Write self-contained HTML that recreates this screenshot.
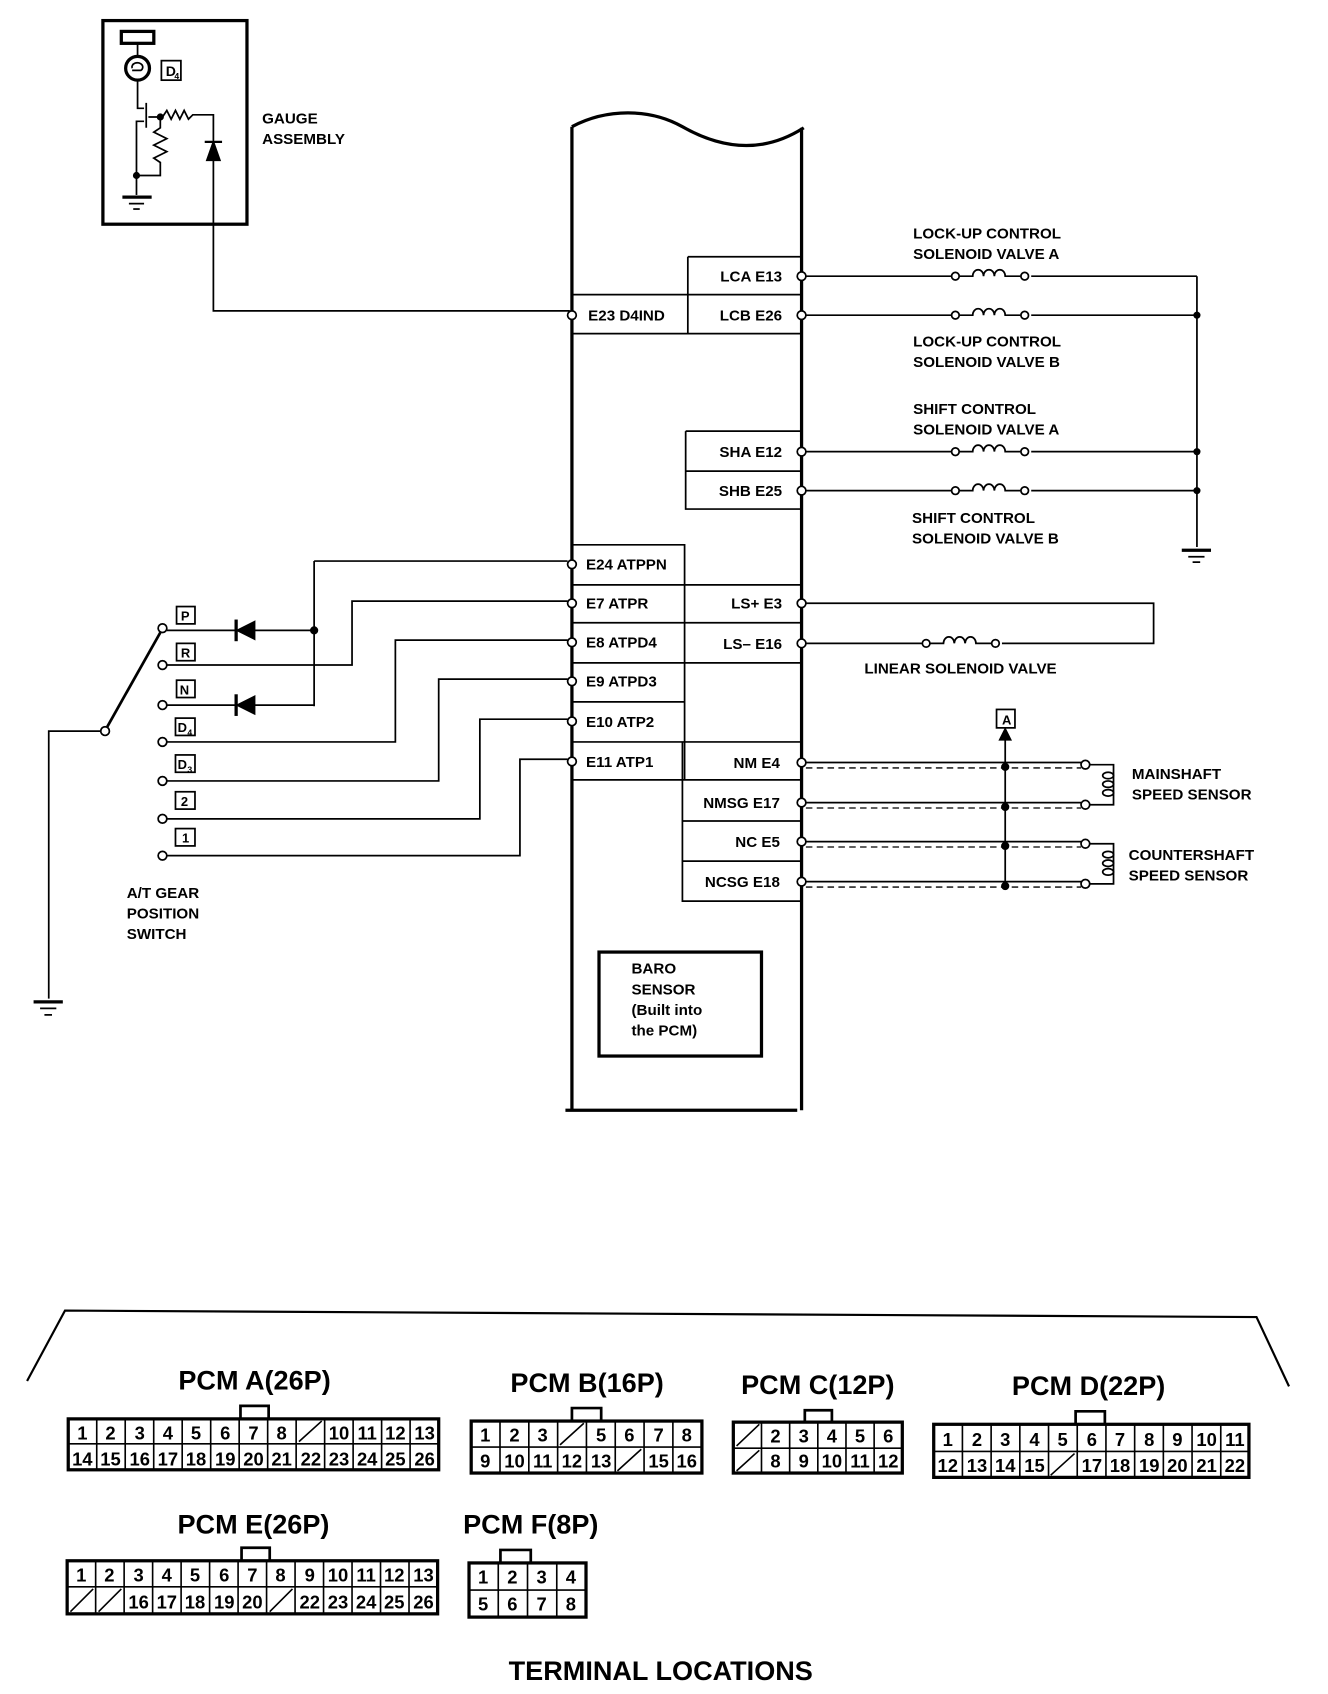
<!DOCTYPE html>
<html><head><meta charset="utf-8"><style>
html,body{margin:0;padding:0;background:#fff}
svg{display:block}
text{font-family:"Liberation Sans",sans-serif;font-weight:bold;fill:#000}
.l{font-size:14px}
.n{font-size:17px;text-anchor:middle}
.h{font-size:25px;text-anchor:middle}
</style></head><body>
<svg width="1328" height="1694" viewBox="0 0 1226 1564" preserveAspectRatio="none" xmlns="http://www.w3.org/2000/svg">
<g fill="none" stroke="#000" stroke-width="1.6">
<!-- gauge -->
<rect x="95" y="19" width="133" height="188" stroke-width="3"/>
<rect x="112" y="29" width="30" height="11" stroke-width="3"/>
<line x1="127" y1="40" x2="127" y2="51"/>
<circle cx="127" cy="63" r="11" stroke-width="3"/>
<path d="M122 63 a5 4 0 1 1 8 2 h-8"/>
<rect x="149" y="56" width="18" height="18"/>
<path d="M127 74 V100 H133 M135 95 V118 M133 112 H126 V162 M137 108 H150 L154 102 L158 110 L162 102 L166 110 L170 102 L174 110 L178 106 H197 V130"/>
<path d="M148 108 V118 L142 122 L154 128 L142 134 L154 140 L142 146 L148 150 V162 H126"/>
<circle cx="148" cy="108" r="2.5" fill="#000"/><circle cx="126" cy="162" r="2.5" fill="#000"/>
<line x1="126" y1="162" x2="126" y2="180"/>
<line x1="113" y1="182" x2="140" y2="182" stroke-width="3"/><line x1="119" y1="188" x2="133" y2="188"/><line x1="123" y1="193" x2="129" y2="193"/>
<polygon points="191,148 203,148 197,131" fill="#000"/><line x1="189" y1="131" x2="205" y2="131" stroke-width="2"/>
<path d="M197 148 V287 H526"/>
<!-- PCM -->
<path d="M528 117 V1025 M740 118 V1025 M528 117 C560 100 600 100 630 117 C660 134 700 145 742 118" stroke-width="3"/>
<line x1="522" y1="1025" x2="736" y2="1025" stroke-width="3"/>
<path d="M635 237 H740 M635 237 V308 M635 272 H740 M528 272 H635 M528 308 H740"/>
<path d="M633 398 H740 M633 398 V470 H740 M633 435 H740"/>
<path d="M528 503 H632 V720 M528 540 H740 M528 575 H740 M632 612 H740 M528 612 H632 M528 648 H632 M528 685 H740 M528 720 H632 M630 685 V832 H740 M630 720 H740 M630 758 H740 M630 795 H740"/>
<rect x="553" y="879" width="150" height="96" stroke-width="3"/>
<!-- solenoid wires -->
<path d="M744 255 H878 M952 255 H1105 M744 291 H878 M952 291 H1105 M744 417 H878 M952 417 H1105 M744 453 H878 M952 453 H1105 M1105 255 V505"/>
<g id="coil">
<circle cx="882" cy="255" r="3.5" fill="#fff"/><circle cx="946" cy="255" r="3.5" fill="#fff"/>
<path d="M886 255 H898 a5 6 0 0 1 10 0 a5 6 0 0 1 10 0 a5 6 0 0 1 10 0 H942"/>
</g>
<use href="#coil" y="36"/><use href="#coil" y="162"/><use href="#coil" y="198"/><use href="#coil" x="-27" y="339"/>
<circle cx="1105" cy="291" r="2.5" fill="#000"/><circle cx="1105" cy="417" r="2.5" fill="#000"/><circle cx="1105" cy="453" r="2.5" fill="#000"/>
<line x1="1091" y1="508" x2="1118" y2="508" stroke-width="3"/><line x1="1097" y1="514" x2="1112" y2="514"/><line x1="1101" y1="519" x2="1108" y2="519"/>
<path d="M744 557 H1065 V594 H925 M851 594 H744"/>
<!-- sensors -->
<path d="M744 704 H998 M744 741 H998 M744 777 H998 M744 814 H998"/>
<path d="M744 709 H998 M744 746 H998 M744 782 H998 M744 819 H998" stroke-dasharray="6 4" stroke-width="1.2"/>
<circle cx="1002" cy="706" r="4" fill="#fff"/><circle cx="1002" cy="743" r="4" fill="#fff"/><circle cx="1002" cy="779" r="4" fill="#fff"/><circle cx="1002" cy="816" r="4" fill="#fff"/>
<path d="M1006 706 H1028 V743 H1006 M1006 779 H1028 V816 H1006"/>
<ellipse cx="1023" cy="716" rx="5" ry="3"/><ellipse cx="1023" cy="724" rx="5" ry="3"/><ellipse cx="1023" cy="732" rx="5" ry="3"/>
<ellipse cx="1023" cy="789" rx="5" ry="3"/><ellipse cx="1023" cy="797" rx="5" ry="3"/><ellipse cx="1023" cy="805" rx="5" ry="3"/>
<line x1="928" y1="680" x2="928" y2="818"/>
<polygon points="923,683 933,683 928,673" fill="#000"/>
<rect x="920" y="655" width="17" height="17"/>
<circle cx="928" cy="708" r="3" fill="#000"/><circle cx="928" cy="745" r="3" fill="#000"/><circle cx="928" cy="781" r="3" fill="#000"/><circle cx="928" cy="818" r="3" fill="#000"/>
<!-- terminal circles -->
<g fill="#fff">
<circle cx="740" cy="255" r="4"/><circle cx="740" cy="291" r="4"/><circle cx="740" cy="417" r="4"/><circle cx="740" cy="453" r="4"/><circle cx="740" cy="557" r="4"/><circle cx="740" cy="594" r="4"/><circle cx="740" cy="704" r="4"/><circle cx="740" cy="741" r="4"/><circle cx="740" cy="777" r="4"/><circle cx="740" cy="814" r="4"/>
<circle cx="528" cy="291" r="4"/><circle cx="528" cy="521" r="4"/><circle cx="528" cy="557" r="4"/><circle cx="528" cy="593" r="4"/><circle cx="528" cy="629" r="4"/><circle cx="528" cy="666" r="4"/><circle cx="528" cy="703" r="4"/>
</g>
<!-- gear switch -->
<path d="M154 582 H217 M235 582 H290 M290 518 V652 M290 518 H524 M154 651 H217 M235 651 H290"/>
<polygon points="219,582 235,574 235,590" fill="#000"/><line x1="218" y1="572" x2="218" y2="592" stroke-width="3"/>
<polygon points="219,651 235,643 235,659" fill="#000"/><line x1="218" y1="641" x2="218" y2="661" stroke-width="3"/>
<circle cx="290" cy="582" r="3" fill="#000"/>
<path d="M154 614 H325 V555 H524 M154 685 H365 V591 H524 M154 721 H405 V627 H524 M154 756 H443 V664 H524 M154 790 H480 V701 H524"/>
<g fill="#fff"><circle cx="150" cy="580" r="4"/><circle cx="150" cy="614" r="4"/><circle cx="150" cy="651" r="4"/><circle cx="150" cy="685" r="4"/><circle cx="150" cy="721" r="4"/><circle cx="150" cy="756" r="4"/><circle cx="150" cy="790" r="4"/><circle cx="97" cy="675" r="4"/></g>
<line x1="99" y1="671" x2="148" y2="584" stroke-width="2.5"/>
<path d="M93 675 H45 V922"/>
<line x1="31" y1="925" x2="58" y2="925" stroke-width="3"/><line x1="37" y1="931" x2="52" y2="931"/><line x1="41" y1="937" x2="48" y2="937"/>
<rect x="163" y="560" width="17" height="16"/><rect x="163" y="594" width="17" height="16"/><rect x="163" y="628" width="17" height="16"/><rect x="162" y="663" width="18" height="16"/><rect x="162" y="697" width="18" height="16"/><rect x="162" y="731" width="18" height="16"/><rect x="162" y="765" width="18" height="16"/>
<!-- bottom frame -->
<path d="M25 1275 L60 1210 L1160 1216 L1190 1280" stroke-width="2"/>
</g>
<!-- labels -->
<text x="153" y="70" style="font-size:13px">D</text><text x="161" y="73" style="font-size:8px">4</text>
<text class="l" x="242" y="114">GAUGE</text><text class="l" x="242" y="133">ASSEMBLY</text>
<g class="l" text-anchor="end">
<text x="722" y="260">LCA E13</text><text x="722" y="296">LCB E26</text><text x="722" y="422">SHA E12</text><text x="722" y="458">SHB E25</text>
<text x="722" y="562">LS+ E3</text><text x="722" y="599">LS– E16</text><text x="720" y="709">NM E4</text><text x="720" y="746">NMSG E17</text><text x="720" y="782">NC E5</text><text x="720" y="819">NCSG E18</text>
</g>
<g class="l">
<text x="543" y="296">E23 D4IND</text><text x="541" y="526">E24 ATPPN</text><text x="541" y="562">E7 ATPR</text><text x="541" y="598">E8 ATPD4</text><text x="541" y="634">E9 ATPD3</text><text x="541" y="671">E10 ATP2</text><text x="541" y="708">E11 ATP1</text>
<text x="843" y="220">LOCK-UP CONTROL</text><text x="843" y="239">SOLENOID VALVE A</text>
<text x="843" y="320">LOCK-UP CONTROL</text><text x="843" y="339">SOLENOID VALVE B</text>
<text x="843" y="382">SHIFT CONTROL</text><text x="843" y="401">SOLENOID VALVE A</text>
<text x="842" y="483">SHIFT CONTROL</text><text x="842" y="502">SOLENOID VALVE B</text>
<text x="798" y="622">LINEAR SOLENOID VALVE</text>
<text x="1045" y="719">MAINSHAFT</text><text x="1045" y="738">SPEED SENSOR</text>
<text x="1042" y="794">COUNTERSHAFT</text><text x="1042" y="813">SPEED SENSOR</text>
<text x="117" y="829">A/T GEAR</text><text x="117" y="848">POSITION</text><text x="117" y="867">SWITCH</text>
<text x="583" y="899">BARO</text><text x="583" y="918">SENSOR</text><text x="583" y="937">(Built into</text><text x="583" y="956">the PCM)</text>
</g>
<g style="font-size:12px">
<text x="167" y="573">P</text><text x="167" y="607">R</text><text x="166" y="641">N</text><text x="164" y="676">D</text><text x="173" y="679" style="font-size:8px">4</text><text x="164" y="710">D</text><text x="173" y="713" style="font-size:8px">3</text><text x="167" y="744">2</text><text x="168" y="778">1</text>
</g>
<text x="925" y="669" style="font-size:12px">A</text>
<!-- headings -->
<g class="h">
<text x="235" y="1283">PCM A(26P)</text><text x="542" y="1285">PCM B(16P)</text><text x="755" y="1287">PCM C(12P)</text><text x="1005" y="1288">PCM D(22P)</text>
<text x="234" y="1416">PCM E(26P)</text><text x="490" y="1416">PCM F(8P)</text>
<text x="610" y="1551">TERMINAL LOCATIONS</text>
</g>
<!-- connectors -->
<g fill="none" stroke="#000" stroke-width="1.5">
<path d="M222 1310 V1298 H248 V1310" stroke-width="2.5"/><rect x="63" y="1310" width="342" height="47" stroke-width="3"/><path d="M63 1333 H405 M89.3 1310V1357 M115.6 1310V1357 M141.9 1310V1357 M168.2 1310V1357 M194.5 1310V1357 M220.8 1310V1357 M247.1 1310V1357 M273.4 1310V1357 M299.7 1310V1357 M326 1310V1357 M352.3 1310V1357 M378.6 1310V1357 M276 1331 L297 1312"/>
<path d="M528 1312 V1300 H555 V1312" stroke-width="2.5"/><rect x="435" y="1312" width="213" height="48" stroke-width="3"/><path d="M435 1336 H648 M461.6 1312V1360 M488.2 1312V1360 M514.8 1312V1360 M541.4 1312V1360 M568 1312V1360 M594.6 1312V1360 M621.2 1312V1360 M517 1334 L539 1314 M570 1358 L592 1338"/>
<path d="M743 1313 V1302 H768 V1313" stroke-width="2.5"/><rect x="677" y="1313" width="156" height="47" stroke-width="3"/><path d="M677 1337 H833 M703 1313V1360 M729 1313V1360 M755 1313V1360 M781 1313V1360 M807 1313V1360 M680 1335 L701 1315 M680 1358 L701 1339"/>
<path d="M993 1315 V1303 H1020 V1315" stroke-width="2.5"/><rect x="862" y="1315" width="291" height="49" stroke-width="3"/><path d="M862 1340 H1153 M888.5 1315V1364 M915 1315V1364 M941.5 1315V1364 M968 1315V1364 M994.5 1315V1364 M1021 1315V1364 M1047.5 1315V1364 M1074 1315V1364 M1100.5 1315V1364 M1127 1315V1364 M970 1362 L992 1342"/>
<path d="M223 1441 V1429 H249 V1441" stroke-width="2.5"/><rect x="62" y="1441" width="342" height="49" stroke-width="3"/><path d="M62 1465 H404 M88.3 1441V1490 M114.6 1441V1490 M140.9 1441V1490 M167.2 1441V1490 M193.5 1441V1490 M219.8 1441V1490 M246.1 1441V1490 M272.4 1441V1490 M298.7 1441V1490 M325 1441V1490 M351.3 1441V1490 M377.6 1441V1490 M65 1488 L86 1467 M91 1488 L112 1467 M249 1488 L270 1467"/>
<path d="M462 1443 V1431 H490 V1443" stroke-width="2.5"/><rect x="433" y="1443" width="108" height="50" stroke-width="3"/><path d="M433 1468 H541 M460 1443V1493 M487 1443V1493 M514 1443V1493"/>
</g>
<g class="n">
<text x="76" y="1329">1</text><text x="102" y="1329">2</text><text x="129" y="1329">3</text><text x="155" y="1329">4</text><text x="181" y="1329">5</text><text x="208" y="1329">6</text><text x="234" y="1329">7</text><text x="260" y="1329">8</text><text x="313" y="1329">10</text><text x="339" y="1329">11</text><text x="365" y="1329">12</text><text x="392" y="1329">13</text>
<text x="76" y="1353">14</text><text x="102" y="1353">15</text><text x="129" y="1353">16</text><text x="155" y="1353">17</text><text x="181" y="1353">18</text><text x="208" y="1353">19</text><text x="234" y="1353">20</text><text x="260" y="1353">21</text><text x="287" y="1353">22</text><text x="313" y="1353">23</text><text x="339" y="1353">24</text><text x="365" y="1353">25</text><text x="392" y="1353">26</text>
<text x="448" y="1331">1</text><text x="475" y="1331">2</text><text x="501" y="1331">3</text><text x="555" y="1331">5</text><text x="581" y="1331">6</text><text x="608" y="1331">7</text><text x="634" y="1331">8</text>
<text x="448" y="1355">9</text><text x="475" y="1355">10</text><text x="501" y="1355">11</text><text x="528" y="1355">12</text><text x="555" y="1355">13</text><text x="608" y="1355">15</text><text x="634" y="1355">16</text>
<text x="716" y="1332">2</text><text x="742" y="1332">3</text><text x="768" y="1332">4</text><text x="794" y="1332">5</text><text x="820" y="1332">6</text>
<text x="716" y="1355">8</text><text x="742" y="1355">9</text><text x="768" y="1355">10</text><text x="794" y="1355">11</text><text x="820" y="1355">12</text>
<text x="875" y="1335">1</text><text x="902" y="1335">2</text><text x="928" y="1335">3</text><text x="955" y="1335">4</text><text x="981" y="1335">5</text><text x="1008" y="1335">6</text><text x="1034" y="1335">7</text><text x="1061" y="1335">8</text><text x="1087" y="1335">9</text><text x="1114" y="1335">10</text><text x="1140" y="1335">11</text>
<text x="875" y="1359">12</text><text x="902" y="1359">13</text><text x="928" y="1359">14</text><text x="955" y="1359">15</text><text x="1008" y="1359">17</text><text x="1034" y="1359">18</text><text x="1061" y="1359">19</text><text x="1087" y="1359">20</text><text x="1114" y="1359">21</text><text x="1140" y="1359">22</text>
<text x="75" y="1460">1</text><text x="101" y="1460">2</text><text x="128" y="1460">3</text><text x="154" y="1460">4</text><text x="180" y="1460">5</text><text x="207" y="1460">6</text><text x="233" y="1460">7</text><text x="259" y="1460">8</text><text x="286" y="1460">9</text><text x="312" y="1460">10</text><text x="338" y="1460">11</text><text x="364" y="1460">12</text><text x="391" y="1460">13</text>
<text x="128" y="1485">16</text><text x="154" y="1485">17</text><text x="180" y="1485">18</text><text x="207" y="1485">19</text><text x="233" y="1485">20</text><text x="286" y="1485">22</text><text x="312" y="1485">23</text><text x="338" y="1485">24</text><text x="364" y="1485">25</text><text x="391" y="1485">26</text>
<text x="446" y="1462">1</text><text x="473" y="1462">2</text><text x="500" y="1462">3</text><text x="527" y="1462">4</text>
<text x="446" y="1487">5</text><text x="473" y="1487">6</text><text x="500" y="1487">7</text><text x="527" y="1487">8</text>
</g>
</svg>
</body></html>
